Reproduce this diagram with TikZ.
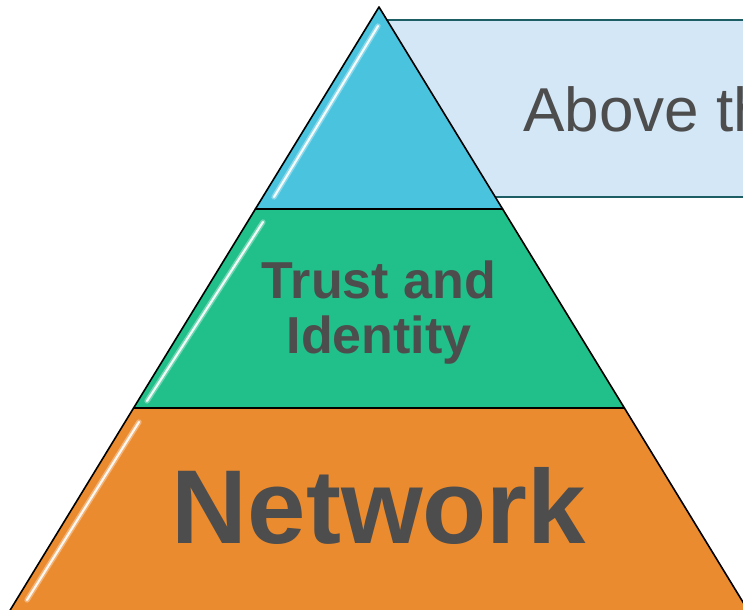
\documentclass[tikz,border=0pt]{standalone}
\usepackage{fontspec}
\setmainfont{Liberation Sans}
\definecolor{apexblue}{HTML}{4AC3DE}
\definecolor{trustgreen}{HTML}{21BF8A}
\definecolor{netorange}{HTML}{EB8B2F}
\definecolor{calloutfill}{HTML}{D3E7F7}
\definecolor{calloutline}{HTML}{1D5E64}
\definecolor{labelgray}{HTML}{4D4D4D}

\tikzset{every picture/.style={line width=0.75pt}}
\tikzset{
  tier/.style={draw=black, line width=1.2pt, line join=round},
  glow/.style={white, line width=4pt, line cap=round, opacity=0.35},
  shine/.style={white, line width=1.6pt, line cap=round, opacity=0.9}
}

\begin{document}
\begin{tikzpicture}[x=0.75pt,y=0.75pt,yscale=-1,xscale=1]
\useasboundingbox (0,0) rectangle (743,610);
\clip (0,0) rectangle (743,610);

%Shape: Rectangle [id:callout]
\draw [draw=calloutline, fill=calloutfill, line width=1.5pt] (385,20) rectangle (790,197) ;
%Shape: Triangle [id:tierTop]
\draw [tier, fill=apexblue] (379,7) -- (502.6,209) -- (255.4,209) -- cycle ;
%Shape: Trapezoid [id:tierMid]
\draw [tier, fill=trustgreen] (255.4,209) -- (502.6,209) -- (624.4,408) -- (133.6,408) -- cycle ;
%Shape: Trapezoid [id:tierBase]
\draw [tier, fill=netorange] (133.6,408) -- (624.4,408) -- (749,612) -- (9,612) -- cycle ;

%Straight Lines [id:shineTop]
\draw [glow] (378,26) -- (274,197) ;
\draw [shine] (378,26) -- (274,197) ;
%Straight Lines [id:shineMid]
\draw [glow] (263,222) -- (147,401) ;
\draw [shine] (263,222) -- (147,401) ;
%Straight Lines [id:shineBase]
\draw [glow] (139,422) -- (27,600) ;
\draw [shine] (139,422) -- (27,600) ;

% Text Node
\draw (523,132) node (above) [anchor=base west][inner sep=0pt][text=labelgray] {\fontsize{46.5}{50}\selectfont Above th};
% Text Node
\draw (379,353) node (trust) [anchor=base][inner sep=0pt][align=center][text=labelgray][font=\bfseries\fontsize{39}{41.25}\selectfont] {Trust and\\Identity};
% Text Node
\draw (379,543) node (network) [anchor=base][inner sep=0pt][text=labelgray] {\bfseries\fontsize{78.75}{80}\selectfont Network};

\end{tikzpicture}
\end{document}
